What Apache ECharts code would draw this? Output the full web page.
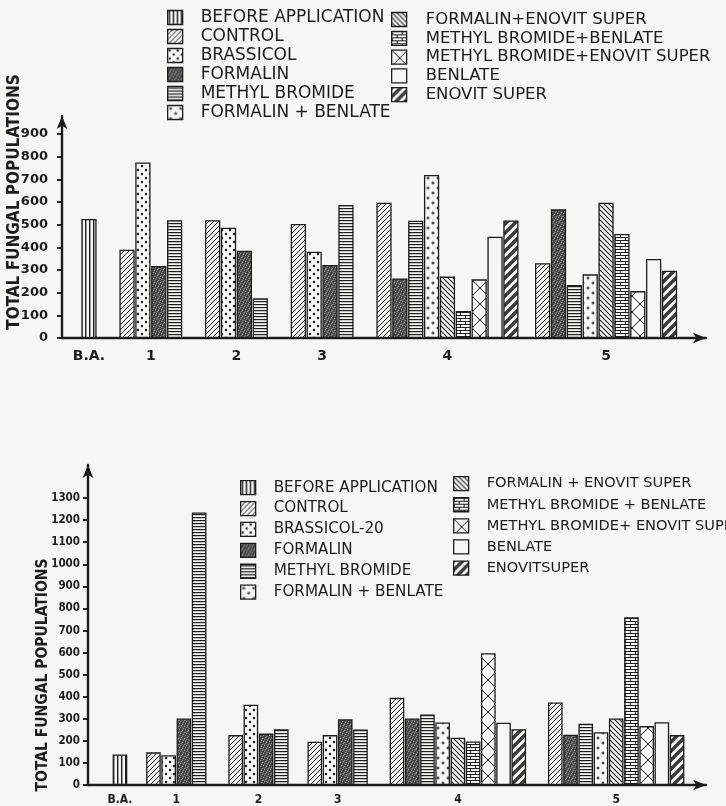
<!DOCTYPE html>
<html>
<head>
<meta charset="utf-8">
<script src="https://cdn.jsdelivr.net/npm/echarts@6/dist/echarts.min.js"></script>
<style>
  html, body { margin: 0; padding: 0; background: #f6f6f4; }
  #chart { width: 726px; height: 806px; }
</style>
</head>
<body>
<div id="chart"></div>
<script>
// group labels on the x axis
var groupLabels = ['B.A.', '1', '2', '3', '4', '5'];

// legend / series names, chart 1 (top) and chart 2 (bottom)
var names1 = ['BEFORE APPLICATION', 'CONTROL', 'BRASSICOL', 'FORMALIN', 'METHYL BROMIDE', 'FORMALIN + BENLATE',
  'FORMALIN+ENOVIT SUPER', 'METHYL BROMIDE+BENLATE', 'METHYL BROMIDE+ENOVIT SUPER', 'BENLATE', 'ENOVIT SUPER'];
var names2 = ['BEFORE APPLICATION', 'CONTROL', 'BRASSICOL-20', 'FORMALIN', 'METHYL BROMIDE', 'FORMALIN + BENLATE',
  'FORMALIN + ENOVIT SUPER', 'METHYL BROMIDE + BENLATE', 'METHYL BROMIDE+ ENOVIT SUPER', 'BENLATE', 'ENOVITSUPER'];

// which treatments (index into names) appear in each group, in drawing order
var membersBA = [0];
var membersEarly = [1, 2, 3, 4];
var membersLate = [1, 3, 4, 5, 6, 7, 8, 9, 10];

// chart 1 values
var top_BA = [525];
var top_1 = [390, 775, 318, 520];
var top_2 = [520, 487, 385, 175];
var top_3 = [503, 381, 322, 587];
var top_4 = [597, 263, 518, 720, 271, 119, 259, 447, 519];
var top_5 = [330, 568, 234, 281, 597, 459, 207, 349, 297];

// chart 2 values
var bot_BA = [138];
var bot_1 = [148, 135, 301, 1235];
var bot_2 = [226, 364, 233, 253];
var bot_3 = [196, 226, 298, 252];
var bot_4 = [395, 301, 319, 283, 214, 197, 597, 282, 253];
var bot_5 = [374, 228, 278, 239, 301, 760, 267, 284, 226];

var ticks1 = [0, 100, 200, 300, 400, 500, 600, 700, 800, 900];
var ticks2 = [0, 100, 200, 300, 400, 500, 600, 700, 800, 900, 1000, 1100, 1200, 1300];

// x axis layout, in fifths of a bar: space before each group, total length
var BAR_UNITS = 5;
var gaps1 = [6, 7, 7, 7, 7, 5];
var gaps2 = [8, 6, 7, 6, 7, 7];
var UNITS = 203;

var INK = '#1c1c1c';
var PAPER = '#f6f6f4';

function pat(w, h, draw) {
  var c = document.createElement('canvas');
  c.width = w; c.height = h;
  var g = c.getContext('2d');
  g.fillStyle = PAPER;
  g.fillRect(0, 0, w, h);
  g.fillStyle = INK;
  g.strokeStyle = INK;
  draw(g, w, h);
  return { image: c, repeat: 'repeat' };
}

function line(g, x1, y1, x2, y2) {
  g.beginPath(); g.moveTo(x1, y1); g.lineTo(x2, y2); g.stroke();
}

var patterns = [
  // before application: vertical lines
  pat(4, 4, function (g) { g.fillRect(1, 0, 1.4, 4); }),
  // control: thin "/" lines
  pat(5, 5, function (g) {
    g.lineWidth = 1;
    line(g, -1, 6, 6, -1); line(g, -1, 1, 1, -1); line(g, 4, 6, 6, 4);
  }),
  // brassicol: dots
  pat(8, 8, function (g) {
    g.beginPath(); g.arc(2, 2, 1.2, 0, Math.PI * 2); g.fill();
    g.beginPath(); g.arc(6, 6, 1.2, 0, Math.PI * 2); g.fill();
  }),
  // formalin: dark stipple
  pat(6, 6, function (g) {
    g.fillStyle = '#545454'; g.fillRect(0, 0, 6, 6);
    g.fillStyle = '#949494';
    [[0, 1], [2, 4], [4, 0], [5, 3], [1, 5], [3, 2]].forEach(function (p) { g.fillRect(p[0], p[1], 1, 1); });
    g.fillStyle = '#2c2c2c';
    [[1, 2], [3, 5], [5, 1], [0, 4], [4, 3]].forEach(function (p) { g.fillRect(p[0], p[1], 1, 1); });
  }),
  // methyl bromide: horizontal lines
  pat(4, 3, function (g) { g.fillRect(0, 1, 4, 1.2); }),
  // formalin + benlate: small crosses
  pat(10, 10, function (g) {
    g.fillRect(1.5, 2.5, 3, 1); g.fillRect(2.5, 1.5, 1, 3);
    g.fillRect(6.5, 7.5, 3, 1); g.fillRect(7.5, 6.5, 1, 3);
  }),
  // formalin + enovit super: "\" lines
  pat(5, 5, function (g) {
    g.lineWidth = 1.1;
    line(g, -1, -1, 6, 6); line(g, 4, -1, 6, 1); line(g, -1, 4, 1, 6);
  }),
  // methyl bromide + benlate: brick dashes
  pat(10, 6, function (g) {
    g.fillRect(0, 0, 10, 1); g.fillRect(0, 3, 10, 1);
    g.fillRect(0, 0, 1, 3); g.fillRect(5, 3, 1, 3);
  }),
  // methyl bromide + enovit super: large cross hatch
  pat(16, 16, function (g) {
    g.lineWidth = 1;
    line(g, 0, 0, 16, 16); line(g, 16, 0, 0, 16);
  }),
  // benlate: plain
  PAPER,
  // enovit super: thick dark "/" stripes
  pat(9, 9, function (g) {
    g.strokeStyle = '#3a3a3a';
    g.lineWidth = 3.4;
    line(g, -2, 11, 11, -2); line(g, -2, 2, 2, -2); line(g, 7, 11, 11, 7);
  })
];

function buildChart(values, gaps) {
  var members = [membersBA, membersEarly, membersEarly, membersEarly, membersLate, membersLate];
  var data = names1.map(function () {
    var arr = [];
    for (var i = 0; i < UNITS; i++) arr.push('-');
    return arr;
  });
  var centers = [];
  var pos = 0;
  for (var gi = 0; gi < members.length; gi++) {
    pos += gaps[gi];
    var start = pos;
    for (var k = 0; k < members[gi].length; k++) {
      // a bar spans BAR_UNITS categories and is drawn at the middle one
      data[members[gi][k]][pos + Math.floor(BAR_UNITS / 2)] = values[gi][k];
      pos += BAR_UNITS;
    }
    centers.push(start + members[gi].length * BAR_UNITS / 2);
  }
  var slots = [];
  for (var s = 0; s < UNITS; s++) slots.push(String(s));
  return { data: data, centers: centers, slots: slots };
}

var c1 = buildChart([top_BA, top_1, top_2, top_3, top_4, top_5], gaps1);
var c2 = buildChart([bot_BA, bot_1, bot_2, bot_3, bot_4, bot_5], gaps2);

var W = 726;
var grids = [
  { left: 62, right: 20, top: 116, bottom: 468, outerBoundsMode: 'none' },
  { left: 88, right: 20, top: 465, bottom: 21, outerBoundsMode: 'none' }
];
function barWidth(grid) {
  return (W - grid.left - grid.right) / UNITS * BAR_UNITS * 0.96;
}

function labelAt(centers) {
  return function (v) {
    for (var i = 0; i < centers.length; i++) {
      if (Math.abs(centers[i] - v) < 0.01) return groupLabels[i];
    }
    return '';
  };
}

var axisLineStyle = { color: INK, width: 2.4 };

function catAxis(grid, slots) {
  return {
    type: 'category', gridIndex: grid, data: slots, position: 'bottom',
    axisLine: { show: true, lineStyle: axisLineStyle, symbol: ['none', 'arrow'], symbolSize: [8, 13] },
    axisTick: { show: false }, axisLabel: { show: false }, splitLine: { show: false }
  };
}

function labelAxis(grid, centers, font, size, margin) {
  return {
    type: 'value', gridIndex: grid, min: 0, max: UNITS, position: 'bottom',
    axisLine: { show: false }, axisTick: { show: false }, splitLine: { show: false },
    axisLabel: {
      customValues: centers, formatter: labelAt(centers), margin: margin,
      color: INK, fontFamily: font, fontWeight: 'bold', fontSize: size
    }
  };
}

function valAxis(grid, max, ticks, font, size, margin, nameSize, nameGap, namePad) {
  return {
    type: 'value', gridIndex: grid, min: 0, max: max,
    axisLine: { show: true, lineStyle: axisLineStyle, symbol: ['none', 'arrow'], symbolSize: [8, 13] },
    axisTick: { show: true, customValues: ticks, length: 5, lineStyle: { color: INK, width: 2 } },
    axisLabel: {
      customValues: ticks, margin: margin, color: INK, fontFamily: font, fontWeight: 'bold', fontSize: size,
      formatter: function (v) { return String(v); }
    },
    splitLine: { show: false },
    name: 'TOTAL FUNGAL POPULATIONS', nameLocation: 'middle', nameRotate: 90, nameGap: nameGap,
    nameMoveOverlap: false,
    nameTextStyle: { color: INK, fontFamily: 'DejaVu Sans Condensed', fontWeight: 'bold', fontSize: nameSize, padding: namePad }
  };
}

var series = [];
[[c1, names1, 0], [c2, names2, 1]].forEach(function (item) {
  var chart = item[0], names = item[1], gi = item[2];
  names.forEach(function (name, t) {
    series.push({
      type: 'bar', name: name, xAxisIndex: gi * 2, yAxisIndex: gi,
      data: chart.data[t], barGap: '-100%', barWidth: barWidth(grids[gi]),
      itemStyle: { color: patterns[t], borderColor: INK, borderWidth: 1.3 },
      silent: true
    });
  });
});

function legend(data, left, top, gap, size, pad) {
  return {
    data: data, orient: 'vertical', left: left, top: top, itemGap: gap,
    itemWidth: 15, itemHeight: 14, icon: 'rect', selectedMode: false,
    itemStyle: { borderColor: INK, borderWidth: 1.3 },
    textStyle: { color: INK, fontFamily: 'DejaVu Sans', fontSize: size, padding: [0, 0, 0, pad] }
  };
}

var option = {
  backgroundColor: PAPER,
  animation: false,
  legend: [
    legend(names1.slice(0, 6), 162, 4, 2, 17, 13),
    legend(names1.slice(6), 386, 6, 1.8, 16.5, 14),
    legend(names2.slice(0, 6), 235, 475, 5.6, 15.2, 13),
    legend(names2.slice(6), 448, 471, 5.8, 14.6, 13)
  ],
  grid: grids,
  xAxis: [
    catAxis(0, c1.slots),
    labelAxis(0, c1.centers, 'DejaVu Sans', 14, 11),
    catAxis(1, c2.slots),
    labelAxis(1, c2.centers, 'DejaVu Sans Condensed', 12, 9)
  ],
  yAxis: [
    valAxis(0, 980, ticks1, 'DejaVu Sans', 13, 14, 17, 39, [0, 0, 0, 50]),
    valAxis(1, 1450, ticks2, 'DejaVu Sans Condensed', 11.5, 8, 15.5, 37, [0, 100, 0, 0])
  ],
  series: series
};

var myChart = echarts.init(document.getElementById('chart'));
myChart.setOption(option);
</script>
</body>
</html>
